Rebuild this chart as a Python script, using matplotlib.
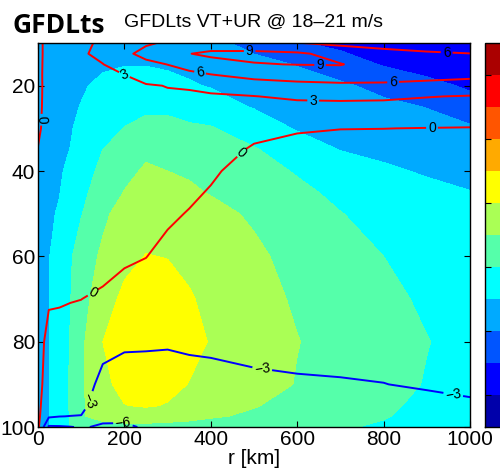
import matplotlib
matplotlib.use('Agg')
import matplotlib.pyplot as plt
import numpy as np
from matplotlib.colors import ListedColormap, BoundaryNorm

plt.rcParams['font.family'] = ['Liberation Sans', 'DejaVu Sans']

# radius columns [km]
r_km = [0, 25, 50, 75, 100, 150, 200, 250, 300, 350, 400, 500, 600, 700, 800, 900, 1000]

# filled field (VT), one row per vertical level
vt_z = [10, 15, 20, 25, 30, 35, 40, 45, 50, 60, 70, 80, 90, 95, 97.5, 100]
vt = [
    [6.8, 7.0, 7.1, 7.2, 7.3, 7.5, 7.6, 7.6, 7.4, 7.1, 6.6, 5.3, 4.15, 3.5, 3.1, 2.8, 2.5],
    [7.0, 7.15, 7.3, 7.4, 7.55, 7.8, 7.95, 7.95, 7.85, 7.65, 7.35, 6.65, 5.9, 4.9, 3.85, 3.3, 2.9],
    [7.1, 7.3, 7.45, 7.6, 7.85, 8.3, 8.5, 8.5, 8.35, 8.15, 7.9, 7.35, 6.85, 6.3, 5.45, 4.5, 3.75],
    [7.2, 7.4, 7.6, 7.8, 8.05, 8.9, 9.4, 9.75, 9.7, 9.2, 8.75, 7.9, 7.3, 6.85, 6.45, 5.95, 4.7],
    [7.3, 7.5, 7.7, 7.92, 8.25, 9.3, 10.05, 10.4, 10.45, 10.3, 10.15, 9.0, 7.85, 7.35, 7.0, 6.65, 6.3],
    [7.4, 7.6, 7.8, 8.02, 8.7, 10.0, 11.1, 11.7, 11.65, 11.3, 10.95, 10.15, 9.0, 7.95, 7.55, 7.25, 7.0],
    [7.5, 7.7, 7.95, 8.1, 9.1, 10.5, 11.6, 12.2, 12.0, 11.8, 11.6, 10.7, 9.85, 9.05, 8.3, 7.8, 7.5],
    [7.6, 7.8, 7.97, 8.6, 9.5, 11.0, 12.05, 12.6, 12.55, 12.25, 11.9, 11.1, 10.4, 9.6, 9.0, 8.5, 8.05],
    [7.7, 7.85, 8.1, 9.0, 9.9, 11.6, 12.8, 13.3, 13.2, 12.9, 12.5, 11.75, 10.9, 10.05, 9.45, 9.0, 8.6],
    [7.75, 7.95, 8.5, 9.8, 10.9, 12.35, 13.5, 14.05, 13.95, 13.6, 13.2, 12.35, 11.4, 10.6, 10.0, 9.5, 9.1],
    [7.8, 7.98, 8.6, 9.95, 11.2, 13.2, 14.4, 14.8, 14.7, 14.15, 13.6, 12.6, 11.8, 11.1, 10.4, 9.75, 9.3],
    [7.8, 7.95, 8.9, 10.1, 11.6, 14.0, 14.9, 15.1, 14.9, 14.5, 13.9, 12.9, 12.05, 11.4, 10.8, 10.05, 9.5],
    [7.8, 7.95, 9.0, 10.2, 11.7, 13.6, 14.5, 14.6, 14.45, 13.95, 13.5, 12.9, 11.9, 11.2, 10.6, 9.9, 9.4],
    [7.8, 7.95, 9.0, 10.2, 11.7, 13.3, 13.95, 14.15, 13.9, 13.5, 13.1, 12.1, 11.4, 10.9, 10.3, 9.6, 9.2],
    [7.8, 7.95, 8.9, 10.1, 11.8, 12.7, 13.0, 13.1, 12.9, 12.6, 12.2, 11.7, 11.2, 10.7, 10.1, 9.5, 9.1],
    [7.6, 7.95, 8.9, 10.1, 10.8, 11.2, 11.4, 11.4, 11.3, 11.2, 11.0, 10.7, 10.4, 10.15, 9.8, 9.3, 8.9],
]

# line field (UR)
ur_z = [10, 12.5, 15, 17.5, 20, 22.5, 25, 30, 35, 40, 50, 60, 70, 80, 90, 95, 97.5, 100]
ur = [
    [-0.6, 0.8, 1.5, 1.9, 2.5, 3.4, 4.4, 5.6, 6.4, 7.2, 7.8, 7.5, 6.1, 5.3, 4.8, 4.4, 4.2],
    [-0.6, 0.8, 1.5, 2.2, 2.7, 3.6, 5.3, 7.0, 8.2, 8.95, 9.4, 9.5, 9.4, 8.1, 7.0, 6.4, 6.05],
    [-0.55, 0.8, 1.5, 2.0, 2.4, 2.95, 4.2, 5.2, 6.05, 7.2, 8.2, 8.9, 9.05, 9.1, 7.9, 7.5, 7.3],
    [-0.5, 0.78, 1.4, 1.85, 2.2, 2.6, 2.98, 3.8, 4.5, 5.2, 5.85, 7.0, 7.6, 7.9, 7.4, 6.9, 6.5],
    [-0.5, 0.75, 1.3, 1.7, 2.0, 2.4, 2.7, 2.85, 3.05, 3.1, 3.5, 4.5, 5.0, 5.3, 5.4, 5.2, 5.1],
    [-0.45, 0.72, 1.2, 1.55, 1.8, 2.2, 2.45, 2.6, 2.8, 2.85, 2.8, 2.95, 3.4, 3.6, 3.6, 3.1, 2.85],
    [-0.4, 0.7, 1.1, 1.4, 1.6, 2.0, 2.25, 2.4, 2.55, 2.6, 2.6, 2.3, 2.3, 2.2, 2.0, 2.1, 1.9],
    [-0.25, 0.65, 1.0, 1.2, 1.35, 1.7, 1.9, 2.05, 2.15, 2.1, 2.0, 0.9, 0.25, 0.05, 0.02, -0.05, -0.1],
    [0.05, 0.6, 0.9, 1.05, 1.2, 1.5, 1.65, 1.8, 1.8, 1.6, 1.3, -0.35, -0.8, -1.0, -1.0, -1.0, -1.0],
    [0.3, 0.55, 0.8, 0.95, 1.1, 1.35, 1.45, 1.6, 1.4, 1.1, 0.3, -0.9, -1.3, -1.5, -1.5, -1.5, -1.45],
    [0.5, 0.45, 0.65, 0.75, 0.9, 1.1, 1.0, 1.1, 0.45, -0.15, -0.6, -1.5, -1.8, -1.9, -1.9, -1.9, -1.85],
    [0.6, 0.35, 0.45, 0.5, 0.6, 0.6, 0.35, 0.05, -0.75, -1.1, -1.3, -1.9, -2.0, -2.1, -2.1, -2.1, -2.05],
    [0.6, 0.12, 0.1, 0.05, 0.01, -0.25, -0.9, -1.3, -1.6, -1.9, -2.0, -2.2, -2.2, -2.3, -2.3, -2.3, -2.2],
    [0.45, -0.35, -0.4, -0.5, -0.6, -1.9, -2.6, -2.65, -2.75, -2.55, -2.45, -2.3, -2.4, -2.5, -2.5, -2.45, -2.35],
    [0.6, -0.9, -1.0, -1.1, -1.3, -4.0, -4.2, -4.2, -4.1, -4.0, -3.9, -3.45, -3.2, -3.1, -3.02, -2.85, -2.7],
    [0.6, -1.7, -1.8, -1.9, -2.2, -4.9, -5.0, -5.0, -4.9, -4.8, -4.7, -4.4, -4.1, -3.8, -3.6, -3.4, -3.2],
    [0.6, -2.6, -2.95, -3.05, -3.1, -5.4, -5.5, -5.4, -5.4, -5.3, -5.2, -4.9, -4.6, -4.3, -4.0, -3.8, -3.5],
    [0.6, -6.4, -6.3, -6.1, -5.8, -6.3, -6.3, -5.8, -5.9, -5.8, -5.6, -5.3, -5.0, -4.7, -4.4, -4.1, -3.8],
]

fill_levels = np.arange(0, 25, 2)
line_levels = [-6, -3, 0, 3, 6, 9]
line_colors = ['#0000ff', '#0000ff', '#ff0000', '#ff0000', '#ff0000', '#ff0000']

# contour label spots (r, z)
label_spots = [(12, 28), (127, 68.5), (472, 35.8), (912, 29.7),
               (197, 18), (637, 23.4), (375, 17), (822, 19.1), (946, 12.1),
               (490, 12.1), (653, 15.2),
               (116, 93.7), (518, 87.1), (961, 92.5), (197, 99.3)]

# MATLAB jet(12)
jet12 = [(0, 0, 2/3), (0, 0, 1), (0, 1/3, 1), (0, 2/3, 1), (0, 1, 1),
         (1/3, 1, 2/3), (2/3, 1, 1/3), (1, 1, 0), (1, 2/3, 0), (1, 1/3, 0),
         (1, 0, 0), (2/3, 0, 0)]
cmap = ListedColormap(jet12)
norm = BoundaryNorm(fill_levels, cmap.N)

fig = plt.figure(figsize=(5, 4.76), dpi=100)
ax = fig.add_axes([0.076, 0.1029, 0.864, 0.8067])

R, Z = np.meshgrid(r_km, vt_z)
cf = ax.contourf(R, Z, np.array(vt), levels=fill_levels, cmap=cmap, norm=norm)

R2, Z2 = np.meshgrid(r_km, ur_z)
cs = ax.contour(R2, Z2, np.array(ur), levels=line_levels, colors=line_colors, linewidths=1.4)
ax.clabel(cs, fmt=lambda v: f'{v:.0f}'.replace('-', '\u2212'), fontsize=10,
          colors='k', inline=True, inline_spacing=2, manual=label_spots)

ax.set_xlim(0, 1000)
ax.set_ylim(100, 10)
ax.set_xticks([0, 200, 400, 600, 800, 1000])
ax.set_yticks([20, 40, 60, 80, 100])
ax.tick_params(direction='in', top=True, right=True, length=4, width=0.8,
               labelsize=15, pad=2)
for s in ax.spines.values():
    s.set_linewidth(1.0)
ax.set_xlabel('r [km]', fontsize=15, labelpad=0)
ax.set_title('GFDLts VT+UR @ 18\u201321 m/s', fontsize=14, pad=12)

fig.text(0.026, 0.93, 'GFDLts', fontsize=19, fontweight='bold',
         family=['Open Sans', 'DejaVu Sans'], va='baseline')

# colorbar sits at the right edge, only its left part is inside the figure
cax = fig.add_axes([0.97, 0.1029, 0.06, 0.8067])
cb = fig.colorbar(cf, cax=cax)
cb.set_ticks([2, 6, 10, 14, 18, 22])
cax.tick_params(direction='in', left=True, right=True, length=4, width=0.8,
                labelright=False)
cb.outline.set_linewidth(1.0)

fig.savefig('out.png', dpi=100)
